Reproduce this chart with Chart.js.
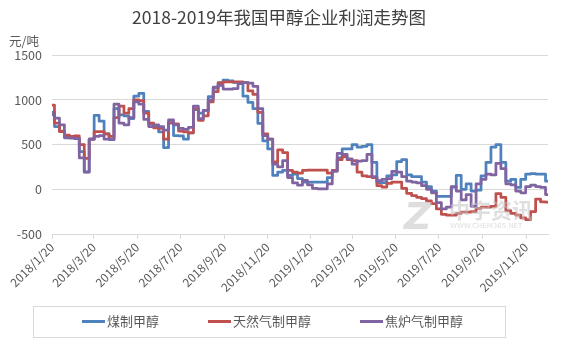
<!DOCTYPE html>
<html>
<head>
<meta charset="utf-8">
<script src="https://cdn.jsdelivr.net/npm/chart.js@4"></script>
<style>
  html, body { margin: 0; padding: 0; background: #fff; }
</style>
</head>
<body>
<canvas id="profitChart" width="567" height="340"></canvas>
<script>
// x axis tick labels (every two months)
var tickLabels = ['2018/1/20', '2018/3/20', '2018/5/20', '2018/7/20', '2018/9/20', '2018/11/20',
  '2019/1/20', '2019/3/20', '2019/5/20', '2019/7/20', '2019/9/20', '2019/11/20'];

var seriesNames = ['煤制甲醇', '天然气制甲醇', '焦炉气制甲醇'];
var seriesColors = ['#4F81BD', '#C0504D', '#8064A2'];

// weekly profit, 元/吨, starting 2018/1/20
var coalValues = [860, 700, 650, 590, 585, 570, 420, 195, 560, 825,
  760, 620, 555, 900, 830, 820, 790, 1040, 1070, 870,
  730, 705, 640, 465, 740, 600, 595, 560, 630, 890,
  850, 880, 1035, 1130, 1190, 1220, 1210, 1195, 1185, 1040,
  970, 900, 735, 540, 450, 155, 190, 210, 155, 170,
  120, 80, 80, 80, 80, 80, 130, 210, 350, 450,
  450, 500, 470, 480, 500, 300, 75, 75, 150, 160,
  310, 330, 160, 140, 140, 80, 30, -20, -80, -80,
  -80, 25, 155, 0, 60, -20, -10, 150, 300, 470,
  500, 300, 90, 110, 20, 110, 170, 175, 170, 170,
  90];

var gasValues = [940, 740, 645, 605, 590, 595, 500, 345, 560, 645,
  645, 620, 590, 800, 930, 850, 900, 1000, 990, 850,
  740, 685, 680, 560, 745, 730, 650, 640, 630, 900,
  770, 820, 975, 1090, 1185, 1200, 1200, 1200, 1200, 1190,
  1100, 1060, 860, 620, 560, 305, 440, 410, 210, 190,
  180, 210, 215, 215, 215, 215, 180, 210, 330, 365,
  330, 320, 190, 150, 140, 130, 40, 25, 65, 80,
  80, 10, -45, -70, -90, -105, -130, -160, -220, -280,
  -290, -290, -270, -255, -255, -250, -215, -200, -200, -190,
  -50, -90, -240, -270, -290, -320, -340, -250, -110, -140,
  -145];

var cokeValues = [830, 795, 720, 575, 570, 565, 350, 190, 560, 590,
  600, 560, 555, 950, 740, 720, 800, 975, 950, 780,
  700, 720, 700, 660, 775, 720, 680, 670, 690, 930,
  790, 880, 1000, 1140, 1160, 1120, 1120, 1125, 1180, 1190,
  1185, 1150, 900, 600, 560, 280, 250, 320, 130, 70,
  45, 100, 50, 10, 5, 5, 60, 200, 400, 390,
  340, 280, 315, 320, 390, 140, 95, 110, 120, 200,
  190, 140, 90, 80, 70, 40, 0, -40, -150, -220,
  -200, 30, -20, -120, -60, -190, 60, 110, 170, 160,
  290, 230, 60, 50, -20, -40, 30, 45, 30, 20,
  -60];

// days since 2018/1/20
function dayOf(str) {
  var p = str.split('/');
  return (Date.UTC(+p[0], +p[1] - 1, +p[2]) - Date.UTC(2018, 0, 20)) / 86400000;
}
var tickDays = tickLabels.map(dayOf);

function toPoints(values) {
  return values.map(function (v, i) {
    return { x: i * 7, y: v };
  });
}

// unit label, legend box, watermark
var extrasPlugin = {
  id: 'extras',
  afterDatasetsDraw: function (chart) {
    var ctx = chart.ctx;
    ctx.save();
    ctx.fillStyle = 'rgba(195,195,195,0.55)';
    ctx.font = 'bold italic 38px "DejaVu Sans"';
    ctx.textBaseline = 'alphabetic';
    ctx.fillText('Z', 404, 229);
    ctx.font = 'bold 21px "Noto Sans CJK SC"';
    ctx.fillText('中宇资讯', 449, 218);
    ctx.font = '7px "DejaVu Sans"';
    ctx.fillText('WWW.CHEM365.NET', 450, 228);
    ctx.restore();
  },
  afterDraw: function (chart) {
    var ctx = chart.ctx;
    ctx.save();
    ctx.fillStyle = '#595959';
    ctx.font = '12.5px "Noto Sans CJK SC"';
    ctx.textBaseline = 'middle';
    ctx.textAlign = 'left';
    ctx.fillText('元/吨', 9, 41);

    // legend
    ctx.strokeStyle = '#d9d9d9';
    ctx.lineWidth = 1;
    ctx.strokeRect(33.5, 306.5, 472, 31);
    ctx.font = '13px "Noto Sans CJK SC"';
    var x = 82;
    chart.data.datasets.forEach(function (ds) {
      ctx.strokeStyle = ds.borderColor;
      ctx.lineWidth = 3;
      ctx.beginPath();
      ctx.moveTo(x, 321.5);
      ctx.lineTo(x + 23, 321.5);
      ctx.stroke();
      ctx.fillStyle = '#595959';
      ctx.fillText(ds.label, x + 25, 321);
      x += 25 + ctx.measureText(ds.label).width + 49;
    });
    ctx.restore();
  }
};

Chart.defaults.font.family = '"Noto Sans CJK SC", sans-serif';
Chart.defaults.color = '#595959';

var ctx = document.getElementById('profitChart').getContext('2d');
var profitChart = new Chart(ctx, {
  type: 'line',
  data: {
    datasets: [
      { label: seriesNames[0], data: toPoints(coalValues), borderColor: seriesColors[0], order: 3 },
      { label: seriesNames[1], data: toPoints(gasValues), borderColor: seriesColors[1], order: 2 },
      { label: seriesNames[2], data: toPoints(cokeValues), borderColor: seriesColors[2], order: 1 },
    ],
  },
  options: {
    responsive: false,
    animation: false,
    parsing: false,
    elements: {
      line: { borderWidth: 2.75, tension: 0, fill: false, stepped: 'middle', borderJoinStyle: 'round' },
      point: { radius: 0 },
    },
    layout: {
      padding: { left: 10, right: 19, top: 4, bottom: 46 },
    },
    plugins: {
      legend: { display: false },
      tooltip: { enabled: false },
      title: {
        display: true,
        text: '2018-2019年我国甲醇企业利润走势图',
        color: '#404040',
        font: { size: 17.5, weight: 'normal' },
        padding: { top: 3, bottom: 27 },
      },
    },
    scales: {
      x: {
        type: 'linear',
        min: 0,
        max: 700,
        afterBuildTicks: function (axis) {
          axis.ticks = tickDays.map(function (d) { return { value: d }; });
        },
        afterFit: function (axis) {
          axis.height = 60;
        },
        ticks: {
          autoSkip: false,
          maxRotation: 45,
          minRotation: 45,
          padding: 1,
          font: { size: 12 },
          callback: function (value, index) {
            return tickLabels[index];
          },
        },
        grid: {
          drawOnChartArea: false,
          drawTicks: true,
          tickLength: 5,
          color: '#d9d9d9',
        },
        border: { display: true, color: '#d9d9d9' },
      },
      y: {
        min: -500,
        max: 1500,
        afterFit: function (axis) {
          axis.width = 42;
        },
        ticks: {
          stepSize: 500,
          padding: 10,
          font: { size: 12.5 },
          callback: function (value) {
            return String(value);
          },
        },
        grid: { color: '#d9d9d9', drawTicks: false },
        border: { display: false },
      },
    },
  },
  plugins: [extrasPlugin],
});
</script>
</body>
</html>
